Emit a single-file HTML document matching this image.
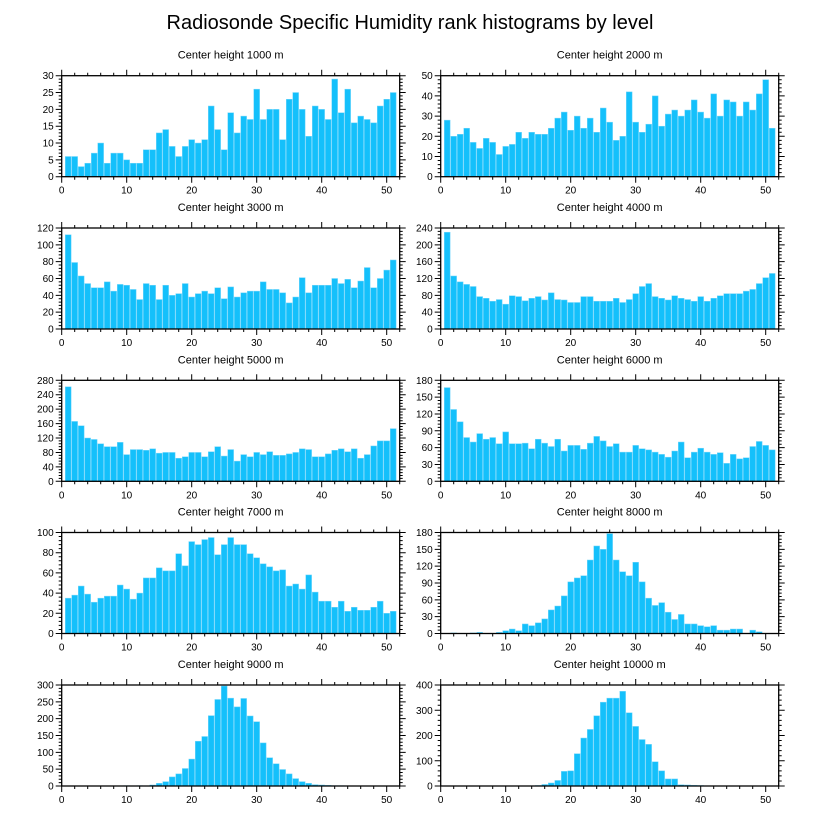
<!DOCTYPE html>
<html><head><meta charset="utf-8"><style>
body{margin:0;background:#fff;}
svg text{font-family:"Liberation Sans",sans-serif;fill:#000;}
</style></head><body>
<svg id="chart" width="818" height="824" viewBox="0 0 818 824" xmlns="http://www.w3.org/2000/svg">
<text x="410" y="29" text-anchor="middle" font-size="20">Radiosonde Specific Humidity rank histograms by level</text>
</svg>
<script>
const levels = ["1000","2000","3000","4000","5000","6000","7000","8000","9000","10000"];
const yMaxes = [30,50,120,240,280,180,100,180,300,400];
const yMajorSteps = [5,10,20,40,40,30,20,30,50,100];
const xTicks = [0,10,20,30,40,50];
const h1000 = [6,6,3,4,7,10,4,7,7,5,4,4,8,8,13,14,9,6,9,11,10,11,21,14,8,19,13,18,17,26,17,20,20,11,23,25,20,12,21,20,17,29,19,26,16,18,17,16,21,23,25];
const h2000 = [28,20,21,24,17,14,19,17,11,15,16,22,19,22,21,21,24,29,32,23,30,24,29,22,34,27,18,20,42,27,22,26,40,25,31,33,30,33,38,32,29,41,30,38,37,30,37,33,41,48,24];
const h3000 = [112,79,63,54,49,49,56,45,53,52,47,35,54,52,35,52,40,42,54,38,42,45,42,49,36,50,38,43,45,45,56,47,47,43,31,38,61,43,52,52,52,60,54,59,49,57,73,49,60,70,82];
const h4000 = [230,126,112,106,101,77,73,66,70,59,79,77,67,73,77,69,86,70,69,63,63,77,77,66,66,66,73,63,70,84,101,108,77,73,69,79,73,70,66,77,66,73,79,84,84,84,90,94,108,122,132];
const h5000 = [262,166,154,120,116,104,96,96,108,74,88,88,86,90,78,80,80,64,68,80,80,68,82,96,70,88,56,74,68,80,74,82,72,72,76,80,90,88,68,68,76,86,90,82,90,64,74,98,112,112,146];
const h6000 = [167,128,106,78,70,85,75,78,67,88,67,67,68,58,75,68,62,75,54,64,64,57,68,80,72,62,67,52,52,64,58,56,52,48,43,54,70,42,52,59,52,48,51,32,48,40,42,62,71,64,56];
const h7000 = [35,38,47,39,31,35,37,37,48,44,34,40,55,55,65,62,62,79,67,91,88,93,95,78,88,95,88,88,79,75,69,66,62,63,47,49,44,58,41,32,32,26,32,22,26,23,23,26,32,20,22];
const h8000 = [0,1,0,0,1,2,0,0,2,5,8,5,17,14,19,26,42,49,67,92,99,103,131,156,150,178,131,110,103,127,92,63,50,55,38,25,34,17,17,14,12,14,6,6,8,8,0,6,3,0,0];
const h9000 = [0,0,0,0,0,0,0,0,0,1,0,1,0,3,8,13,27,36,52,80,133,147,209,257,297,261,235,260,208,191,128,84,66,49,36,22,13,8,4,3,2,1,1,0,0,0,0,0,0,0,0];
const h10000 = [0,0,0,0,0,0,0,0,0,0,0,0,0,1,2,6,12,22,58,60,128,190,224,278,332,348,348,375,290,236,184,165,96,60,28,28,5,4,3,2,0,0,0,0,0,0,0,0,0,0,0];
const series = [h1000,h2000,h3000,h4000,h5000,h6000,h7000,h8000,h9000,h10000];

const svg = document.getElementById('chart');
const NS = 'http://www.w3.org/2000/svg';
function mk(tag, attrs){const e=document.createElementNS(NS,tag);for(const k in attrs)e.setAttribute(k,attrs[k]);return e;}
const PW = 338, PH = 101, XMAX = 52;
const lefts = [61.7, 440.7];
const tops = [75.7, 228, 380.3, 532.5, 685];

series.forEach((vals, i) => {
  const L = lefts[i % 2], T = tops[Math.floor(i / 2)];
  const ymax = yMaxes[i], step = yMajorSteps[i];
  const sx = v => L + v / XMAX * PW;
  const sy = v => T + PH - v / ymax * PH;
  const g = mk('g', {});
  
  
  svg.appendChild(g);
  const title = mk('text', {x: L + PW / 2, y: T - 17, 'text-anchor': 'middle', 'font-size': '11'});
  
  
  title.textContent = 'Center height ' + levels[i] + ' m';
  g.appendChild(title);
  vals.forEach((v, j) => {
    const x = j + 1;
    const bw = 0.9 / XMAX * PW;
    const r = mk('rect', {x: sx(x) - bw / 2, y: sy(v), width: bw, height: sy(0) - sy(v), fill: '#14c0fb', stroke: '#7ad8fb', 'stroke-width': '0.5'});
    
    
    g.appendChild(r);
  });
  const frame = mk('rect', {x: L, y: T, width: PW, height: PH, fill: 'none', stroke: '#000', 'stroke-width': '1.3'});
  
  
  g.appendChild(frame);
  let d = '';
  for (let x = 0; x <= XMAX; x += 2) {
    const len = x % 10 === 0 ? 6 : 3;
    d += `M${sx(x)} ${T + PH}v${len}M${sx(x)} ${T}v${-len}`;
  }
  const minor = step / 5;
  for (let k = 0; k * minor <= ymax + 1e-9; k++) {
    const v = k * minor;
    const len = k % 5 === 0 ? 6 : 3;
    d += `M${L} ${sy(v)}h${-len}M${L + PW} ${sy(v)}h${len}`;
  }
  const ticks = mk('path', {d: d, stroke: '#000', 'stroke-width': '1', fill: 'none'});
  
  
  g.appendChild(ticks);
  xTicks.forEach(t => {
    const tx = mk('text', {x: sx(t), y: T + PH + 17, 'text-anchor': 'middle', 'font-size': '10'});
    
    
    tx.textContent = t;
    g.appendChild(tx);
  });
  for (let v = 0; v <= ymax + 1e-9; v += step) {
    const ty = mk('text', {x: L - 8, y: sy(v) + 3.5, 'text-anchor': 'end', 'font-size': '10'});
    
    
    ty.textContent = v;
    g.appendChild(ty);
  }
});
</script>
</body></html>
